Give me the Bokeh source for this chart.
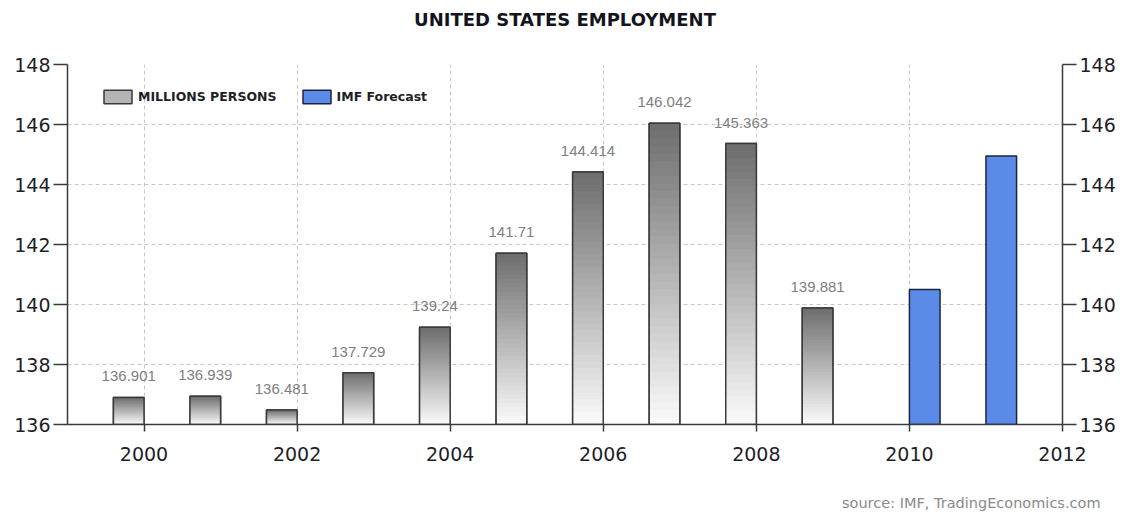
from bokeh.plotting import figure
from bokeh.models import (ColumnDataSource, LinearAxis, Range1d, FixedTicker,
                          Legend, LegendItem, Title)
from bokeh.core.properties import value
from bokeh.transform import dodge
from bokeh.embed import file_html
from bokeh.resources import INLINE

# ---------------- data ----------------
years = [2000, 2001, 2002, 2003, 2004, 2005, 2006, 2007, 2008, 2009]
employment = [136.901, 136.939, 136.481, 137.729, 139.24, 141.71,
              144.414, 146.042, 145.363, 139.881]
value_labels = ["136.901", "136.939", "136.481", "137.729", "139.24", "141.71",
                "144.414", "146.042", "145.363", "139.881"]
forecast_years = [2010, 2011]
forecast = [140.5, 144.95]
y_ticks = [136, 138, 140, 142, 144, 146, 148]
x_ticks = [2000, 2002, 2004, 2006, 2008, 2010, 2012]
series_names = ["MILLIONS PERSONS", "IMF Forecast"]
title_text = "UNITED STATES EMPLOYMENT"
source_text = "source: IMF, TradingEconomics.com"

Y_MIN, Y_MAX = 136, 148
X_MIN, X_MAX = 1999, 2012
BAR_W = 0.4
TOP_RGB = (0x6d, 0x6d, 0x6d)
BOT_RGB = (0xfb, 0xfb, 0xfb)
N_STEPS = 40

# gradient bands derived from the values (each band runs to the bar top,
# drawn bottom-up so no seams appear)
g_year, g_bottom, g_top, g_color = [], [], [], []
for yr, v in zip(years, employment):
    for k in range(N_STEPS):
        b = Y_MIN + (v - Y_MIN) * k / N_STEPS
        f = (k + 0.5) / N_STEPS
        rgb = tuple(int(round(BOT_RGB[i] + (TOP_RGB[i] - BOT_RGB[i]) * f)) for i in range(3))
        g_year.append(yr)
        g_bottom.append(b)
        g_top.append(v)
        g_color.append("#%02x%02x%02x" % rgb)

grad_src = ColumnDataSource(dict(year=g_year, bottom=g_bottom, top=g_top, color=g_color))
hist_src = ColumnDataSource(dict(year=years, top=employment, label=value_labels))
fc_src = ColumnDataSource(dict(year=forecast_years, top=forecast))

FONT = "DejaVu Sans"

p = figure(frame_width=995, frame_height=360,
           x_range=Range1d(X_MIN, X_MAX), y_range=Range1d(Y_MIN, Y_MAX),
           output_backend="svg", toolbar_location=None,
           min_border_left=67, min_border_right=56,
           min_border_top=64, min_border_bottom=88,
           background_fill_color="white", border_fill_color="white")
p.outline_line_color = None

# title
p.title.text = title_text
p.title.align = "center"
p.title.text_font = FONT
p.title.text_font_size = "18px"
p.title.text_font_style = "bold"
p.title.text_color = "#141420"
p.title.standoff = 12
# spacer between title and plot frame
p.add_layout(Title(text=" ", text_font_size="1px", standoff=26), "above")

# grids
p.xgrid.ticker = FixedTicker(ticks=x_ticks)
p.ygrid.ticker = FixedTicker(ticks=y_ticks)
for g in (p.xgrid, p.ygrid):
    g.grid_line_color = "#c8c8c8"
    g.grid_line_dash = "4 3"
    g.grid_line_width = 1

def style_axis(ax, tick_out, standoff):
    ax.axis_line_color = "#3a3a3a"
    ax.axis_line_width = 1.5
    ax.major_tick_line_color = "#3a3a3a"
    ax.major_tick_line_width = 1.5
    ax.major_tick_out = tick_out
    ax.major_tick_in = 0
    ax.minor_tick_line_color = None
    ax.major_label_text_font = FONT
    ax.major_label_text_font_size = "19px"
    ax.major_label_text_color = "#1e1e28"
    ax.major_label_standoff = standoff

p.xaxis.ticker = FixedTicker(ticks=x_ticks)
style_axis(p.xaxis[0], 7, 15)
p.yaxis.ticker = FixedTicker(ticks=y_ticks)
style_axis(p.yaxis[0], 14, 3)

right_axis = LinearAxis(ticker=FixedTicker(ticks=y_ticks))
style_axis(right_axis, 14, 3)
p.add_layout(right_axis, "right")

# plain fill under the gradient (also serves as legend icon)
r_hist_base = p.vbar(x=dodge("year", -BAR_W / 2, range=p.x_range), width=BAR_W,
                     bottom=Y_MIN, top="top", source=hist_src,
                     fill_color="#b4b4b4", line_color="#3a3a3a", line_width=1.5)
# gradient bars
p.vbar(x=dodge("year", -BAR_W / 2, range=p.x_range), width=BAR_W,
       bottom="bottom", top="top", source=grad_src,
       fill_color="color", line_color=None)
# outline of historical bars
p.vbar(x=dodge("year", -BAR_W / 2, range=p.x_range), width=BAR_W,
       bottom=Y_MIN, top="top", source=hist_src,
       fill_color=None, line_color="#3a3a3a", line_width=1.5)
# forecast bars
r_fc = p.vbar(x=dodge("year", BAR_W / 2, range=p.x_range), width=BAR_W,
              bottom=Y_MIN, top="top", source=fc_src,
              fill_color="#5b8be6", line_color="#1c2440", line_width=1.5)

# value labels
p.text(x=dodge("year", -BAR_W / 2, range=p.x_range), y="top", text="label",
       source=hist_src, text_align="center", text_baseline="bottom",
       y_offset=-16, text_font=value("Liberation Sans"), text_font_size="15px",
       text_color="#808080")

legend = Legend(items=[LegendItem(label=series_names[0], renderers=[r_hist_base]),
                       LegendItem(label=series_names[1], renderers=[r_fc])],
                orientation="horizontal", location=(33, 319),
                background_fill_alpha=0, border_line_color=None,
                glyph_width=35, glyph_height=17, label_standoff=3, spacing=22,
                padding=0, margin=0, label_text_font=FONT,
                label_text_font_size="12.5px", label_text_font_style="bold",
                label_text_color="#1e1e28")
p.add_layout(legend)

# spacer between x axis and source note
p.add_layout(Title(text=" ", text_font_size="1px", standoff=23), "below")
src_title = Title(text=source_text, align="right",
                  offset=-38, standoff=6,
                  text_font=FONT, text_font_size="14.5px", text_font_style="normal",
                  text_color="#8a8a8a")
p.add_layout(src_title, "below")

open("out.html", "w").write(file_html(p, INLINE))
